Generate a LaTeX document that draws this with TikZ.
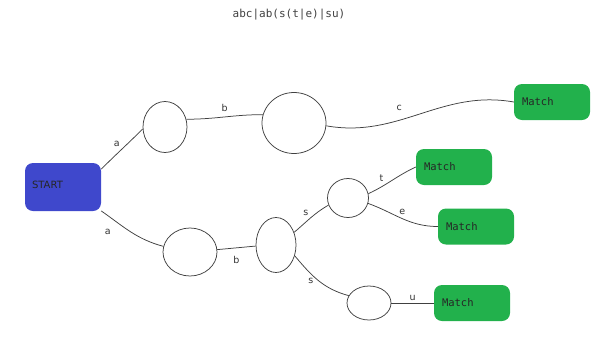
\documentclass[tikz,border=0pt]{standalone}
\usepackage{fontspec}
\setmainfont{DejaVu Sans}
\newfontfamily\codefont{DejaVu Sans Mono}
\usetikzlibrary{shapes.geometric}
\definecolor{startblue}{HTML}{3F48CC}
\definecolor{matchgreen}{HTML}{22B14C}
\begin{document}
\begin{tikzpicture}[x=1pt,y=1pt,
  font=\fontsize{9.5}{10}\selectfont,
  state/.style={draw,black!75,line width=0.75pt,ellipse,inner sep=0pt},
  startbox/.style={fill=startblue,rounded corners=8pt,
    minimum width=76pt,minimum height=48pt,inner xsep=7pt,
    text width=62pt,align=left,text=black!85,
    font=\fontsize{10}{12}\selectfont},
  matchbox/.style={fill=matchgreen,rounded corners=8pt,
    minimum width=76pt,minimum height=36pt,inner xsep=8pt,
    text width=60pt,align=left,text=black!85,
    font=\codefont\fontsize{10.5}{12}\selectfont},
  trans/.style={draw,black!75,line width=0.75pt},
  lbl/.style={text=black!80,inner sep=1pt}]
\useasboundingbox (0,0) rectangle (607,-338);
\node[font=\codefont\fontsize{11}{12}\selectfont,text=black!75] (regex) at (289,-15) {abc|ab(s(t|e)|su)};
\node[startbox] (start) at (63,-187) {\raisebox{5pt}{START}};
\node[matchbox] (m1) at (552,-102) {Match};
\node[matchbox] (m2) at (454,-167) {Match};
\node[matchbox] (m3) at (476,-226.5) {Match};
\node[matchbox] (m4) at (472,-303) {Match};
\node[state,minimum width=44pt,minimum height=51pt] (s1) at (165,-127) {};
\node[state,minimum width=64pt,minimum height=61pt] (s2) at (294,-123) {};
\node[state,minimum width=54pt,minimum height=48pt] (s3) at (190,-252) {};
\node[state,minimum width=40pt,minimum height=55pt] (s4) at (276,-245) {};
\node[state,minimum width=41pt,minimum height=39pt] (s5) at (348,-198) {};
\node[state,minimum width=44pt,minimum height=34pt] (s6) at (369,-303) {};
\draw[trans] (start.25) to[out=45,in=-135] node[lbl,above left=1pt] {a} (s1.185);
\draw[trans] (s1.20) to[out=0,in=180] node[lbl,above=4pt] {b} (s2.165);
\draw[trans] (s2.-5) to[out=-10,in=170] node[lbl,above=8pt,pos=.38] {c} (m1.west);
\draw[trans] (start.-32) to[out=-35,in=165] node[lbl,pos=.1,below=12pt] {a} (s3.168);
\draw[trans] (s3.5) -- node[lbl,below=7pt] {b} (s4.183);
\draw[trans] (s4.35) to[out=40,in=-150] node[lbl,above left=1pt] {s} (s5.200);
\draw[trans] (s4.-30) to[out=-50,in=165] node[lbl,left=4pt] {s} (s6.160);
\draw[trans] (s5.12) to[out=25,in=-155] node[lbl,above left=1pt,pos=.35] {t} (m2.west);
\draw[trans] (s5.-15) to[out=-20,in=180] node[lbl,above=3pt] {e} (m3.west);
\draw[trans] (s6.east) -- node[lbl,above=1pt] {u} (m4.west);
\end{tikzpicture}
\end{document}
